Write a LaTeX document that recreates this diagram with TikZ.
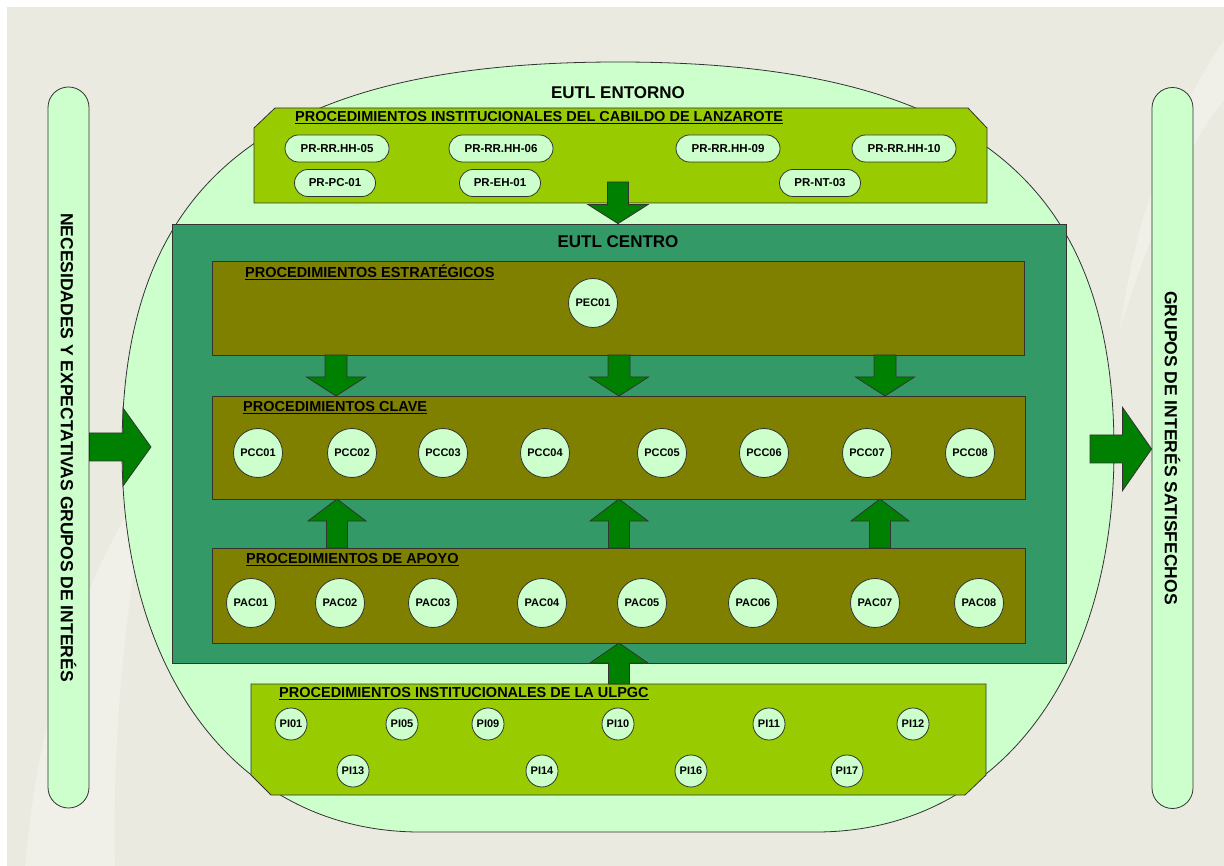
\documentclass[tikz,border=0pt]{standalone}
\usepackage{fontspec}
\setmainfont{Liberation Sans}
\usetikzlibrary{shapes.misc,calc}
\definecolor{bgc}{HTML}{EAEAE0}
\definecolor{lgreen}{HTML}{CCFFCC}
\definecolor{limec}{HTML}{99CC00}
\definecolor{tealc}{HTML}{339966}
\definecolor{olivec}{HTML}{808000}
\definecolor{arrowc}{HTML}{008000}
\definecolor{linec}{HTML}{333333}
\newcommand\fs[1]{\fontsize{#1}{#1}\selectfont}
\tikzset{
  outl/.style={draw=linec, line width=0.8pt},
  procbox/.style={outl, fill=olivec, rectangle, inner sep=0pt, outer sep=0pt, anchor=center},
  bigcirc/.style={outl, circle, fill=lgreen, minimum size=49pt, inner sep=0pt, font=\bfseries\fs{11}},
  smallcirc/.style={outl, circle, fill=lgreen, minimum size=32pt, inner sep=0pt, font=\bfseries\fs{11}},
  pillnode/.style={outl, rounded rectangle, fill=lgreen, minimum height=27pt, inner sep=0pt, font=\bfseries\fs{11.5}},
  titletext/.style={anchor=west, inner sep=0pt, font=\bfseries\fs{14.5}},
  headtext/.style={inner sep=0pt, font=\bfseries\fs{17}},
  sidepill/.style={outl, rounded rectangle, fill=lgreen, rotate=-90, minimum width=721pt, minimum height=41pt, inner sep=0pt, font=\bfseries\fs{17.5}},
  areabox/.style={rectangle, inner sep=0pt, outer sep=0pt},
  barrow/.style={fill=arrowc, draw=linec, line width=0.8pt, line join=miter},
  band/.style={fill=white, opacity=0.3}
}
% block arrow: #1 tail, #2 tip, #3 half shaft width, #4 half head width, #5 head length
\newcommand\blockarrow[5]{%
  \coordinate (hb) at ($(#2)!#5!(#1)$);
  \draw[barrow] ($(#1)!#3!90:(#2)$) -- ($(hb)!#3!90:(#2)$) -- ($(hb)!#4!90:(#2)$) -- (#2)
    -- ($(hb)!#4!-90:(#2)$) -- ($(hb)!#3!-90:(#2)$) -- ($(#1)!#3!-90:(#2)$) -- cycle;
}
\begin{document}
\begin{tikzpicture}[x=1pt,y=-1pt]
\path[use as bounding box] (0,0) rectangle (1224,866);
\fill[white] (0,0) rectangle (1224,866);
\fill[bgc] (7,7) rectangle (1224,866);
% faint light bands of the background
\fill[band] (25,866) .. controls (40,700) and (90,560) .. (150,480)
  .. controls (125,600) and (112,740) .. (115,866) -- cycle;
\fill[band] (1224,40) .. controls (1170,120) and (1135,220) .. (1120,330)
  .. controls (1150,230) and (1190,140) .. (1224,100) -- cycle;

% side pills
\node[sidepill] (left) at (68.5,447.5) {NECESIDADES Y EXPECTATIVAS GRUPOS DE INTERÉS};
\node[sidepill] (right) at (1172.5,448) {GRUPOS DE INTERÉS SATISFECHOS};

% entorno shape
\draw[outl, fill=lgreen] (122,450) .. controls (122,178) and (271,62) .. (618,62)
  .. controls (965,62) and (1114,178) .. (1114,450)
  .. controls (1114,679) and (995,832) .. (816,832)
  -- (420,832) .. controls (241,832) and (122,679) .. (122,450) -- cycle;
\node[headtext] (entorno) at (618,93) {EUTL ENTORNO};

% cabildo box
\node[areabox, minimum width=733pt, minimum height=95pt] (cab) at (620.5,155.5) {};
\draw[outl, fill=limec] (cab.south west) -- ($(cab.north west)+(0,20)$) -- ($(cab.north west)+(21,0)$)
  -- ($(cab.north east)+(-19,0)$) -- ($(cab.north east)+(0,20)$) -- (cab.south east) -- cycle;
\node[titletext] (cabt) at (295,118) {\underline{PROCEDIMIENTOS INSTITUCIONALES DEL CABILDO DE LANZAROTE}};
\node[pillnode, minimum width=104pt] (p1) at (337,148.5) {PR-RR.HH-05};
\node[pillnode, minimum width=104pt] (p2) at (501,148.5) {PR-RR.HH-06};
\node[pillnode, minimum width=104pt] (p3) at (728,148.5) {PR-RR.HH-09};
\node[pillnode, minimum width=104pt] (p4) at (904,148.5) {PR-RR.HH-10};
\node[pillnode, minimum width=81pt] (p5) at (335,183) {PR-PC-01};
\node[pillnode, minimum width=81pt] (p6) at (500,183) {PR-EH-01};
\node[pillnode, minimum width=81pt] (p7) at (820,183) {PR-NT-03};

% ulpgc box
\node[areabox, minimum width=735pt, minimum height=111pt] (ulp) at (618.5,739.5) {};
\draw[outl, fill=limec] (ulp.north west) -- (ulp.north east) -- ($(ulp.south east)+(0,-20)$)
  -- ($(ulp.south east)+(-21,0)$) -- ($(ulp.south west)+(20,0)$) -- ($(ulp.south west)+(0,-20)$) -- cycle;
\node[titletext] (ulpt) at (279,694) {\underline{PROCEDIMIENTOS INSTITUCIONALES DE LA ULPGC}};
\foreach \n/\x/\y in {01/291/724,05/402/724,09/488/724,10/618/724,11/769/724,12/913/724,
                      13/353/771,14/542/771,16/691/771,17/847/771}
  \node[smallcirc] (pi\n) at (\x,\y) {PI\n};

% centro
\node[outl, fill=tealc, rectangle, inner sep=0pt, minimum width=894pt, minimum height=439pt] (centro) at (619,443.5) {};
\node[headtext] (centrot) at (618,242) {EUTL CENTRO};

\node[procbox, minimum width=812pt, minimum height=94pt] (estr) at (618,308) {};
\node[titletext] (estrt) at (245,272) {\underline{PROCEDIMIENTOS ESTRATÉGICOS}};
\node[bigcirc] (pec01) at (593,303) {PEC01};

\node[procbox, minimum width=813pt, minimum height=103pt] (clave) at (618.5,447.5) {};
\node[titletext] (clavet) at (243,408) {\underline{PROCEDIMIENTOS CLAVE}};
\foreach \n/\x in {01/258,02/352,03/443,04/545,05/662,06/764,07/867,08/970}
  \node[bigcirc] (pcc\n) at (\x,453) {PCC\n};

\node[procbox, minimum width=813pt, minimum height=95pt] (apoyo) at (618.5,595.5) {};
\node[titletext] (apoyot) at (246,560) {\underline{PROCEDIMIENTOS DE APOYO}};
\foreach \n/\x in {01/251,02/340,03/433,04/542,05/642,06/753,07/875,08/979}
  \node[bigcirc] (pac\n) at (\x,603) {PAC\n};

% arrows
\coordinate (ta) at (618,182);
\coordinate (tb) at (centro.north -| ta);
\blockarrow{ta}{tb}{10.5pt}{30pt}{19pt}

\foreach \i/\x in {1/336,2/619,3/885}{
  \coordinate (dc) at (\x,0);
  \coordinate (da\i) at (estr.south -| dc);
  \coordinate (db\i) at (clave.north -| dc);
}
\blockarrow{da1}{db1}{11pt}{29.5pt}{19pt}
\blockarrow{da2}{db2}{11pt}{29.5pt}{19pt}
\blockarrow{da3}{db3}{11pt}{29.5pt}{19pt}

\foreach \i/\x in {1/337,2/619,3/880}{
  \coordinate (uc) at (\x,0);
  \coordinate (ua\i) at (apoyo.north -| uc);
  \coordinate (ub\i) at (clave.south -| uc);
}
\blockarrow{ua1}{ub1}{10.5pt}{29pt}{22pt}
\blockarrow{ua2}{ub2}{10.5pt}{29pt}{22pt}
\blockarrow{ua3}{ub3}{10.5pt}{29pt}{22pt}

\coordinate (bc) at (619,0);
\coordinate (ba) at (ulp.north -| bc);
\coordinate (bb) at (apoyo.south -| bc);
\blockarrow{ba}{bb}{10.5pt}{29pt}{20pt}

\coordinate (lb) at (151,447);
\coordinate (la) at (left.north |- lb);
\blockarrow{la}{lb}{14pt}{39pt}{28pt}

\coordinate (ra) at (1090,449);
\coordinate (rb) at (right.south |- ra);
\blockarrow{ra}{rb}{14pt}{41.5pt}{29pt}
\end{tikzpicture}
\end{document}
